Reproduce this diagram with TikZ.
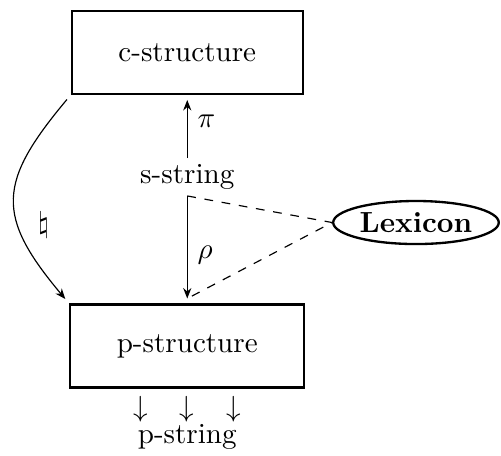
\documentclass[tikz,border=0pt]{standalone}
\usepackage{amsmath,amssymb}
\usetikzlibrary{arrows.meta,shapes.geometric,positioning}
\begin{document}
\begin{tikzpicture}[>={Stealth[length=3.6pt,width=2.8pt]},
box/.style={draw,line width=.8pt,minimum height=1cm,inner xsep=16pt},
lexbox/.style={ellipse,draw,line width=.8pt,inner sep=0pt,minimum width=2cm,minimum height=.52cm,font=\bfseries}]
\useasboundingbox (0,0) rectangle (6.0520,-5.5080);
\node[box] (cs) at (2.2620,-0.6340) {c-structure};
\node[box] (ps) at (2.2620,-4.1800) {p-structure};
\node[inner sep=2pt] (ss) at (2.2620,-2.1380) {s-string};
\node[lexbox] (lx) at (5.0250,-2.6880) {Lexicon};
\coordinate (pt) at ([yshift=-1.7pt]cs.south);
\coordinate (rb) at ([yshift=1.7pt]ps.north);
\draw[->] (ss.north) -- node[right,pos=.64] {$\pi$} (pt);
\draw[->] (ss.south) -- node[right,pos=.58] {$\rho$} (rb);
\draw[dashed] (ss.south) -- (lx.west) -- (rb);
\draw[->,shorten <=2pt,shorten >=2pt] (cs.south west) to[out=230,in=130,looseness=1.4] node[right=3pt,pos=.64] {$\natural$} (ps.north west);
\node[below=-1pt of ps,align=center] (pstr) {$\downarrow\hspace{11pt}\downarrow\hspace{11pt}\downarrow$\\[-2.7pt]p-string};
\end{tikzpicture}
\end{document}
